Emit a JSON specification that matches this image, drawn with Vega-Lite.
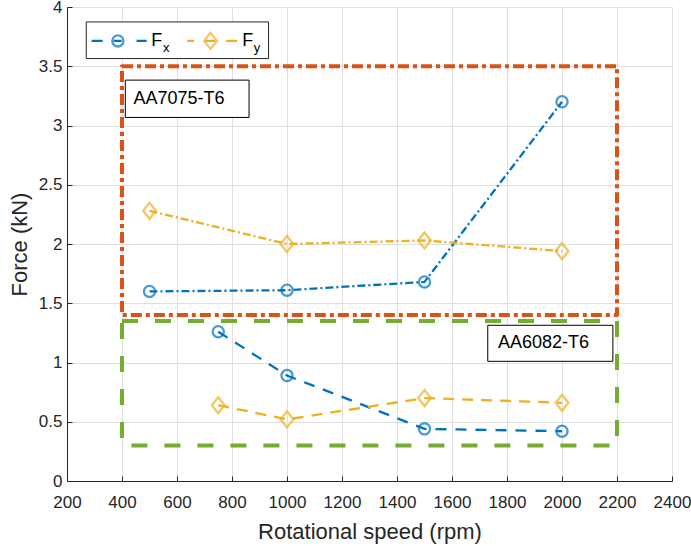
{
  "$schema": "https://vega.github.io/schema/vega-lite/v6.json",
  "width": 605,
  "height": 474,
  "autosize": {"type": "none"},
  "padding": {"left": 67, "top": 7, "right": 19, "bottom": 65},
  "background": "white",
  "config": {
    "font": "Liberation Sans",
    "view": {"stroke": null},
    "axis": {
      "labelFont": "Liberation Sans",
      "titleFont": "Liberation Sans",
      "labelColor": "#262626",
      "titleColor": "#262626",
      "domainColor": "#262626",
      "domainWidth": 1,
      "tickColor": "#262626",
      "tickSize": -5,
      "gridColor": "#dfdfdf",
      "gridWidth": 1,
      "labelFontSize": 17,
      "titleFontSize": 22,
      "titleFontWeight": "normal",
      "labelFlush": false,
      "labelOverlap": false
    }
  },
  "datasets": {
    "forces": [
      {"rpm": 500, "force": 1.6, "s": "Fx-7075"},
      {"rpm": 1000, "force": 1.61, "s": "Fx-7075"},
      {"rpm": 1500, "force": 1.68, "s": "Fx-7075"},
      {"rpm": 2000, "force": 3.2, "s": "Fx-7075"},
      {"rpm": 500, "force": 2.28, "s": "Fy-7075"},
      {"rpm": 1000, "force": 2.0, "s": "Fy-7075"},
      {"rpm": 1500, "force": 2.03, "s": "Fy-7075"},
      {"rpm": 2000, "force": 1.94, "s": "Fy-7075"},
      {"rpm": 750, "force": 1.26, "s": "Fx-6082"},
      {"rpm": 1000, "force": 0.89, "s": "Fx-6082"},
      {"rpm": 1500, "force": 0.44, "s": "Fx-6082"},
      {"rpm": 2000, "force": 0.42, "s": "Fx-6082"},
      {"rpm": 750, "force": 0.64, "s": "Fy-6082"},
      {"rpm": 1000, "force": 0.52, "s": "Fy-6082"},
      {"rpm": 1500, "force": 0.70, "s": "Fy-6082"},
      {"rpm": 2000, "force": 0.66, "s": "Fy-6082"}
    ],
    "regions": [
      {"x1": 400, "x2": 2200, "y1": 1.4, "y2": 3.5, "alloy": "AA7075-T6"},
      {"x1": 400, "x2": 2200, "y1": 0.3, "y2": 1.35, "alloy": "AA6082-T6"}
    ],
    "labels": [
      {"x1": 412, "x2": 862, "y1": 3.068, "y2": 3.383, "tx": 442, "ty": 3.225, "label": "AA7075-T6"},
      {"x1": 1730, "x2": 2185, "y1": 1.01, "y2": 1.314, "tx": 1767, "ty": 1.162, "label": "AA6082-T6"}
    ],
    "legendbox": [
      {"x1": 270, "x2": 933, "y1": 3.565, "y2": 3.874}
    ],
    "legenditems": [
      {"s": "Fx-7075", "x1": 289.5, "x2": 489.6, "y": 3.714, "mx": 385, "tx": 506, "sx": 549, "sy": 3.655, "sub": "x"},
      {"s": "Fy-7075", "x1": 637, "x2": 821.6, "y": 3.714, "mx": 722, "tx": 837.5, "sx": 879, "sy": 3.655, "sub": "y"}
    ]
  },
  "layer": [
    {
      "data": {"name": "regions"},
      "transform": [{"filter": "datum.alloy === 'AA7075-T6'"}],
      "mark": {"type": "rect", "filled": false, "stroke": "#D95319", "strokeWidth": 4, "strokeDash": [11, 4, 4, 4], "strokeJoin": "round"},
      "encoding": {
        "x": {"field": "x1", "type": "quantitative", "scale": {"domain": [200, 2400], "nice": false, "zero": false},
          "axis": {"title": "Rotational speed (rpm)", "values": [200, 400, 600, 800, 1000, 1200, 1400, 1600, 1800, 2000, 2200, 2400], "format": "d", "labelPadding": 18, "titleX": 302.5, "titleY": 57, "titleBaseline": "alphabetic"}},
        "x2": {"field": "x2"},
        "y": {"field": "y1", "type": "quantitative", "scale": {"domain": [0, 4], "nice": false},
          "axis": {"title": "Force (kN)", "values": [0, 0.5, 1, 1.5, 2, 2.5, 3, 3.5, 4], "format": "~g", "labelPadding": 10, "titleX": -41, "titleY": 237, "titleBaseline": "alphabetic"}},
        "y2": {"field": "y2"}
      }
    },
    {
      "data": {"name": "regions"},
      "transform": [{"filter": "datum.alloy === 'AA6082-T6'"}],
      "mark": {"type": "rect", "filled": false, "stroke": "#77AC30", "strokeWidth": 4, "strokeDash": [16, 17], "strokeJoin": "round"},
      "encoding": {
        "x": {"field": "x1", "type": "quantitative"},
        "x2": {"field": "x2"},
        "y": {"field": "y1", "type": "quantitative"},
        "y2": {"field": "y2"}
      }
    },
    {
      "data": {"name": "forces"},
      "mark": {"type": "line", "strokeWidth": 2.3},
      "encoding": {
        "x": {"field": "rpm", "type": "quantitative"},
        "y": {"field": "force", "type": "quantitative"},
        "color": {"field": "s", "type": "nominal", "scale": {"domain": ["Fx-7075", "Fy-7075", "Fx-6082", "Fy-6082"], "range": ["#0072BD", "#EDB120", "#0072BD", "#EDB120"]}, "legend": null},
        "strokeDash": {"field": "s", "type": "nominal", "scale": {"domain": ["Fx-7075", "Fy-7075", "Fx-6082", "Fy-6082"], "range": [[8, 3, 2, 3], [8, 3, 2, 3], [11, 9], [11, 8]]}, "legend": null}
      }
    },
    {
      "data": {"name": "forces"},
      "transform": [{"filter": "indexof(datum.s, 'Fx') === 0"}],
      "mark": {"type": "point", "shape": "circle", "size": 125, "strokeWidth": 2.3, "filled": false},
      "encoding": {
        "x": {"field": "rpm", "type": "quantitative"},
        "y": {"field": "force", "type": "quantitative"},
        "color": {"field": "s", "type": "nominal", "legend": null}
      }
    },
    {
      "data": {"name": "forces"},
      "transform": [{"filter": "indexof(datum.s, 'Fy') === 0"}],
      "mark": {"type": "point", "shape": "M0,-1L0.8,0L0,1L-0.8,0Z", "size": 256, "strokeWidth": 2.3, "filled": false},
      "encoding": {
        "x": {"field": "rpm", "type": "quantitative"},
        "y": {"field": "force", "type": "quantitative"},
        "color": {"field": "s", "type": "nominal", "legend": null}
      }
    },
    {
      "data": {"name": "labels"},
      "mark": {"type": "rect", "fill": "white", "stroke": "#000000", "strokeWidth": 1},
      "encoding": {
        "x": {"field": "x1", "type": "quantitative"},
        "x2": {"field": "x2"},
        "y": {"field": "y1", "type": "quantitative"},
        "y2": {"field": "y2"}
      }
    },
    {
      "data": {"name": "labels"},
      "mark": {"type": "text", "align": "left", "baseline": "middle", "fontSize": 18, "color": "#000000", "font": "Liberation Sans"},
      "encoding": {
        "x": {"field": "tx", "type": "quantitative"},
        "y": {"field": "ty", "type": "quantitative"},
        "text": {"field": "label"}
      }
    },
    {
      "data": {"name": "legendbox"},
      "mark": {"type": "rect", "fill": "white", "stroke": "#262626", "strokeWidth": 1},
      "encoding": {
        "x": {"field": "x1", "type": "quantitative"},
        "x2": {"field": "x2"},
        "y": {"field": "y1", "type": "quantitative"},
        "y2": {"field": "y2"}
      }
    },
    {
      "data": {"name": "legenditems"},
      "transform": [{"filter": "datum.s === 'Fx-7075'"}],
      "mark": {"type": "rule", "color": "#0072BD", "strokeWidth": 2.3, "strokeDash": [11, 11, 8, 15, 10, 100]},
      "encoding": {
        "x": {"field": "x1", "type": "quantitative"},
        "x2": {"field": "x2"},
        "y": {"field": "y", "type": "quantitative"}
      }
    },
    {
      "data": {"name": "legenditems"},
      "transform": [{"filter": "datum.s === 'Fy-7075'"}],
      "mark": {"type": "rule", "color": "#EDB120", "strokeWidth": 2.3, "strokeDash": [7, 11, 10, 11, 11, 100]},
      "encoding": {
        "x": {"field": "x1", "type": "quantitative"},
        "x2": {"field": "x2"},
        "y": {"field": "y", "type": "quantitative"}
      }
    },
    {
      "data": {"name": "legenditems"},
      "transform": [{"filter": "datum.s === 'Fx-7075'"}],
      "mark": {"type": "point", "shape": "circle", "size": 125, "strokeWidth": 2.3, "filled": false, "color": "#0072BD"},
      "encoding": {
        "x": {"field": "mx", "type": "quantitative"},
        "y": {"field": "y", "type": "quantitative"}
      }
    },
    {
      "data": {"name": "legenditems"},
      "transform": [{"filter": "datum.s === 'Fy-7075'"}],
      "mark": {"type": "point", "shape": "M0,-1L0.8,0L0,1L-0.8,0Z", "size": 256, "strokeWidth": 2.3, "filled": false, "color": "#EDB120"},
      "encoding": {
        "x": {"field": "mx", "type": "quantitative"},
        "y": {"field": "y", "type": "quantitative"}
      }
    },
    {
      "data": {"name": "legenditems"},
      "mark": {"type": "text", "align": "left", "baseline": "middle", "fontSize": 18, "color": "#000000", "font": "Liberation Sans"},
      "encoding": {
        "x": {"field": "tx", "type": "quantitative"},
        "y": {"field": "y", "type": "quantitative"},
        "text": {"value": "F"}
      }
    },
    {
      "data": {"name": "legenditems"},
      "mark": {"type": "text", "align": "left", "baseline": "middle", "fontSize": 13, "color": "#000000", "font": "Liberation Sans"},
      "encoding": {
        "x": {"field": "sx", "type": "quantitative"},
        "y": {"field": "sy", "type": "quantitative"},
        "text": {"field": "sub"}
      }
    }
  ]
}
